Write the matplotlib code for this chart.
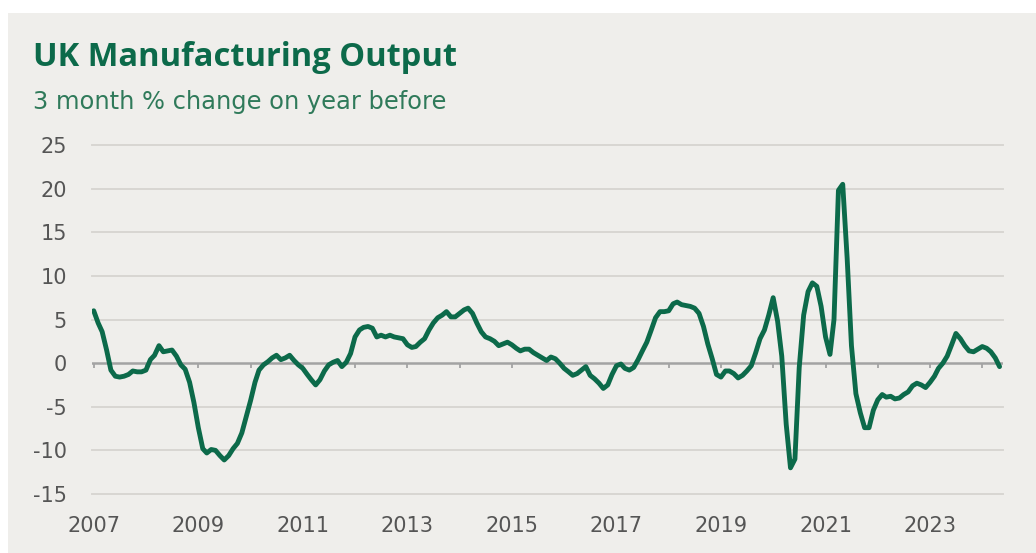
import numpy as np
import pandas as pd
import matplotlib
matplotlib.use("Agg")
import matplotlib.pyplot as plt
from matplotlib.patches import Rectangle

# 3 month % change on year before, monthly from Jan 2007
vals_2007 = [6.0, 4.6, 3.6, 1.5, -0.8, -1.5, -1.6, -1.5, -1.3, -0.9, -1.0, -1.0]
vals_2008 = [-0.8, 0.4, 0.9, 2.0, 1.3, 1.4, 1.5, 0.8, -0.2, -0.7, -2.2, -4.5]
vals_2009 = [-7.4, -9.8, -10.3, -9.9, -10.0, -10.6, -11.1, -10.6, -9.8, -9.2, -8.0, -6.2]
vals_2010 = [-4.3, -2.2, -0.8, -0.2, 0.15, 0.6, 0.9, 0.4, 0.6, 0.9, 0.3, -0.2]
vals_2011 = [-0.6, -1.3, -1.9, -2.5, -1.9, -0.9, -0.2, 0.1, 0.3, -0.4, 0.1, 1.1]
vals_2012 = [3.0, 3.8, 4.1, 4.2, 4.0, 3.0, 3.2, 3.0, 3.2, 3.0, 2.9, 2.8]
vals_2013 = [2.1, 1.8, 1.9, 2.4, 2.8, 3.8, 4.6, 5.2, 5.5, 5.9, 5.3, 5.3]
vals_2014 = [5.7, 6.1, 6.3, 5.7, 4.6, 3.6, 3.0, 2.8, 2.5, 2.0, 2.2, 2.4]
vals_2015 = [2.1, 1.7, 1.4, 1.6, 1.6, 1.2, 0.9, 0.6, 0.3, 0.7, 0.5, 0.0]
vals_2016 = [-0.6, -1.0, -1.4, -1.2, -0.8, -0.4, -1.4, -1.8, -2.3, -2.9, -2.5, -1.3]
vals_2017 = [-0.3, -0.1, -0.6, -0.8, -0.5, 0.4, 1.4, 2.4, 3.8, 5.2, 5.9, 5.9]
vals_2018 = [6.0, 6.8, 7.0, 6.7, 6.6, 6.5, 6.3, 5.7, 4.2, 2.2, 0.5, -1.3]
vals_2019 = [-1.6, -0.9, -0.9, -1.2, -1.7, -1.4, -0.9, -0.3, 1.2, 2.8, 3.8, 5.5]
vals_2020 = [7.5, 4.8, 0.8, -7.0, -12.0, -11.0, -0.5, 5.5, 8.2, 9.2, 8.8, 6.5]
vals_2021 = [3.0, 1.0, 5.0, 19.8, 20.5, 12.0, 2.0, -3.5, -5.7, -7.4, -7.4, -5.4]
vals_2022 = [-4.2, -3.6, -3.9, -3.8, -4.1, -4.0, -3.6, -3.3, -2.6, -2.3, -2.5, -2.8]
vals_2023 = [-2.2, -1.5, -0.6, 0.0, 0.8, 2.1, 3.4, 2.8, 2.0, 1.4, 1.3, 1.6]
vals_2024 = [1.9, 1.7, 1.3, 0.6, -0.4]

values = (vals_2007 + vals_2008 + vals_2009 + vals_2010 + vals_2011 + vals_2012
          + vals_2013 + vals_2014 + vals_2015 + vals_2016 + vals_2017 + vals_2018
          + vals_2019 + vals_2020 + vals_2021 + vals_2022 + vals_2023 + vals_2024)
dates = pd.date_range("2007-01-01", periods=len(values), freq="MS")

y_ticks = [-15, -10, -5, 0, 5, 10, 15, 20, 25]
x_label_years = list(range(2007, 2024, 2))
x_tick_years = list(range(2007, 2025))

title = "UK Manufacturing Output"
subtitle = "3 month % change on year before"

GREEN = "#0c6a4a"
SUB_GREEN = "#2f7a5a"
PANEL = "#efeeeb"
GRID = "#d8d6d2"
ZERO = "#a3a3a3"
TICK_TXT = "#555555"

W, H = 1036, 553
fig = plt.figure(figsize=(W / 100, H / 100), dpi=100, facecolor="white")

# light panel behind everything
fig.patches.append(Rectangle((8 / W, 0), 1 - 8 / W, 1 - 13 / H,
                             transform=fig.transFigure, facecolor=PANEL,
                             edgecolor="none", zorder=-1))

# axes placed in pixel terms
left_px, right_px = 92, 1003
top_px, bot_px = 145, 494
ax = fig.add_axes([left_px / W, 1 - bot_px / H,
                   (right_px - left_px) / W, (bot_px - top_px) / H])
ax.set_zorder(2)
ax.set_facecolor("none")
ax.set_ylim(-15, 25)
ax.set_xlim(pd.Timestamp("2006-12-20"), pd.Timestamp("2024-05-25"))

for s in ax.spines.values():
    s.set_visible(False)

for v in y_ticks:
    if v == 0:
        continue
    ax.axhline(v, color=GRID, lw=1.4, zorder=1, clip_on=False)
ax.axhline(0, color=ZERO, lw=1.8, zorder=2)

# small year ticks hanging under the zero line
yr_dates = [pd.Timestamp(f"{y}-01-01") for y in x_tick_years]
ax.vlines(yr_dates, -0.6, 0, color=ZERO, lw=1.3, zorder=2)

ax.plot(dates, values, color=GREEN, lw=3.5, solid_joinstyle="round",
        solid_capstyle="round", zorder=3)

ax.set_yticks(y_ticks)
ax.set_yticklabels([str(v) for v in y_ticks])
ax.set_xticks([pd.Timestamp(f"{y}-01-01") for y in x_label_years])
ax.set_xticklabels([str(y) for y in x_label_years])
ax.tick_params(axis="both", length=0, labelsize=15, labelcolor=TICK_TXT)
ax.tick_params(axis="y", pad=18)
ax.tick_params(axis="x", pad=16)
for lab in ax.get_xticklabels() + ax.get_yticklabels():
    lab.set_fontfamily("DejaVu Sans")

fig.text(33 / W, 1 - 66 / H, title, fontsize=23.5, fontweight="bold",
         color=GREEN, family="Open Sans", va="baseline")
fig.text(33 / W, 1 - 109 / H, subtitle, fontsize=17.4, color=SUB_GREEN,
         family="DejaVu Sans", va="baseline")

fig.savefig("out.png", dpi=100, facecolor="white")
